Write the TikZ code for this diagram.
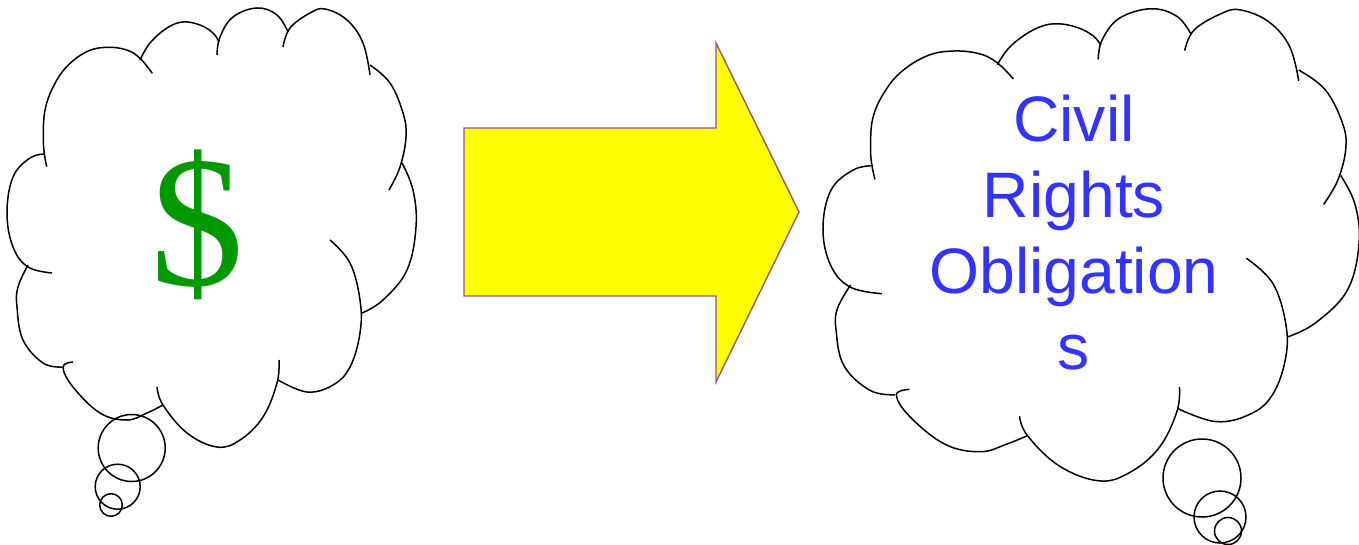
\documentclass[tikz,border=0pt]{standalone}
\usepackage{fontspec}
\setmainfont{Liberation Serif}
\newfontfamily\arialf{Liberation Sans}
\definecolor{dollargreen}{RGB}{0,153,0}
\definecolor{textblue}{RGB}{51,51,255}
\definecolor{arrowedge}{RGB}{150,80,140}
\definecolor{arrowfill}{RGB}{255,255,0}
\newcommand\cloudbumps{%
  \draw[cloudline] plot[smooth,tension=0.65] coordinates {(46.7,166.7) (44.3,153.3) (43.3,136.7) (45,110) (53.3,86.7) (66.7,66.7) (86.7,51.7) (106.7,47.3) (126.7,50) (140,58.3) (152.3,73.3)};
  \draw[cloudline] plot[smooth,tension=0.65] coordinates {(140,60) (150,43) (167,28) (183,22) (200,25) (213,33) (219,42)};
  \draw[cloudline] plot[smooth,tension=0.65] coordinates {(217,55) (220,37) (233,17) (257,8) (277,15) (288,32)};
  \draw[cloudline] plot[smooth,tension=0.65] coordinates {(283,47) (290,28) (310,13) (325,9) (347,20) (363,43) (370,75)};
  \draw[cloudline] plot[smooth,tension=0.65] coordinates {(370,65) (390,83) (403,113) (406,137) (400,167) (389,190)};
  \draw[cloudline] plot[smooth,tension=0.65] coordinates {(402,163) (413,190) (416,227) (407,270) (383,300) (362,313)};
  \draw[cloudline] plot[smooth,tension=0.65] coordinates {(330,240) (350,263) (360,300) (360,333) (350,367) (333,385) (307,392) (278,380)};
  \draw[cloudline] plot[smooth,tension=0.65] coordinates {(279,360) (277,383) (263,417) (240,440) (217,447) (187,433) (163,405) (157,387)};
  \draw[cloudline] plot[smooth,tension=0.65] coordinates {(163,405) (147,413) (127,420) (100,413) (73,387) (63,367) (73,362)};
  \draw[cloudline] plot[smooth,tension=0.65] coordinates {(28,265) (18,287) (17,307) (23,340) (43,363) (62,367)};
  \draw[cloudline] plot[smooth,tension=0.65] coordinates {(45,154) (30,158) (13,177) (7,213) (13,247) (28,267) (52,273)};
}
\begin{document}
\begin{tikzpicture}[x=1bp,y=-1bp,
  cloudline/.style={black,line width=1.5bp},
  bubble/.style={black,line width=1.5bp},
  bigarrow/.style={fill=arrowfill,draw=arrowedge,line width=1.4bp,line join=miter}]
\useasboundingbox (0,0) rectangle (1359,545);
% left cloud
\begin{scope}
  \cloudbumps
\end{scope}
\draw[bubble] (131.7,448) circle[radius=33.5];
\draw[bubble] (117.7,486.7) circle[radius=22.5];
\draw[bubble] (111,505) circle[radius=11.3];
\node[inner sep=0pt,text=dollargreen,font=\fontsize{188}{188}\selectfont] (dollar) at (197.5,224.5) {\$};
% arrow
\draw[bigarrow] (464,128) -- (716,128) -- (716,43) -- (799,212) -- (716,382) -- (716,296) -- (464,296) -- cycle;
% right cloud
\begin{scope}[shift={(813.8,0.15)},xscale=1.3105,yscale=1.0752]
  \cloudbumps
\end{scope}
\draw[bubble] (1202,478) circle[radius=39];
\draw[bubble] (1220,517) circle[radius=26];
\draw[bubble] (1228,531) circle[radius=13.5];
\node[inner sep=0pt,anchor=north,align=center,text=textblue,font=\arialf\fontsize{64.5}{76.5}\selectfont] (civil) at (1074,94.5) {Civil\\Rights\\Obligation\\s};
\end{tikzpicture}
\end{document}
